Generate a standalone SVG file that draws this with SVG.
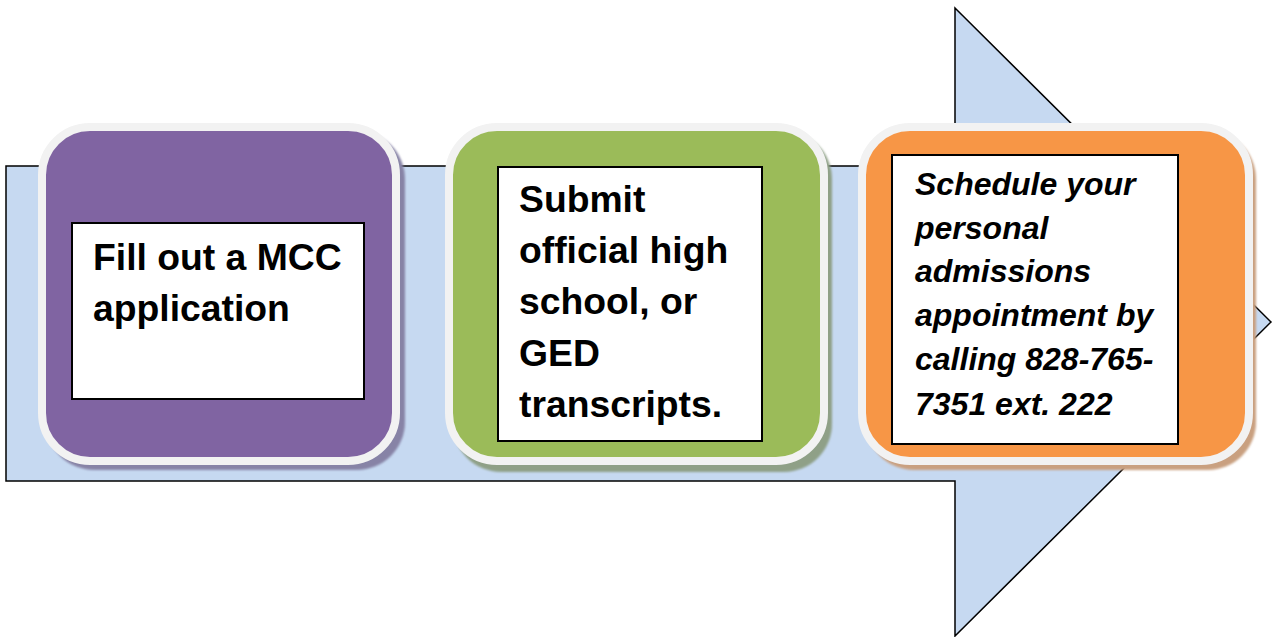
<svg xmlns="http://www.w3.org/2000/svg" width="1273" height="637" viewBox="0 0 1273 637">
  <defs>
    <filter id="soft" x="-10%" y="-10%" width="120%" height="120%">
      <feGaussianBlur stdDeviation="1.2"/>
    </filter>
  </defs>
  <style>
    .arrow { fill: #c6d9f1; stroke: #000000; stroke-width: 1.5; stroke-linejoin: miter; }
    .card { stroke: #f2f2f2; stroke-width: 8; }
    .shadow { filter: url(#soft); }
    .inner { fill: #ffffff; stroke: #000000; stroke-width: 2; }
    .label { font-family: "Liberation Sans", Arial, sans-serif; font-weight: bold; fill: #000000; }
    .big { font-size: 37.3px; }
    .small { font-size: 32px; font-style: italic; }
  </style>
  <rect width="1273" height="637" fill="#ffffff"/>

  <g id="background-arrow">
    <polygon class="arrow" points="6,166 955,166 955,8 1271,322 955,636 955,481 6,481"/>
  </g>

  <g id="step1">
    <rect class="shadow" x="46" y="131" width="359" height="339" rx="48" fill="#8783a6"/>
    <rect class="card" x="42" y="127" width="354" height="334" rx="48" fill="#8064a2"/>
    <rect class="inner" x="72" y="223" width="292" height="176"/>
    <text class="label big" x="93"><tspan x="93" y="270">Fill out a MCC</tspan><tspan x="93" y="321">application</tspan></text>
  </g>

  <g id="step2">
    <rect class="shadow" x="453" y="131" width="379" height="341" rx="48" fill="#8fa087"/>
    <rect class="card" x="449" y="127" width="375" height="334" rx="48" fill="#9bbb59"/>
    <rect class="inner" x="498" y="167" width="264" height="274"/>
    <text class="label big"><tspan x="519" y="212">Submit</tspan><tspan x="519" y="263">official high</tspan><tspan x="519" y="314">school, or</tspan><tspan x="519" y="366">GED</tspan><tspan x="519" y="417">transcripts.</tspan></text>
  </g>

  <g id="step3">
    <rect class="shadow" x="866" y="131" width="390" height="339" rx="48" fill="#c9a080"/>
    <rect class="card" x="862" y="127" width="387" height="334" rx="48" fill="#f79646"/>
    <rect class="inner" x="892" y="155" width="286" height="289"/>
    <text class="label small"><tspan x="915" y="195">Schedule your</tspan><tspan x="915" y="239">personal</tspan><tspan x="915" y="282">admissions</tspan><tspan x="915" y="326">appointment by</tspan><tspan x="915" y="370">calling 828-765-</tspan><tspan x="915" y="415">7351 ext. 222</tspan></text>
  </g>

  <g id="connectors"></g>
</svg>
